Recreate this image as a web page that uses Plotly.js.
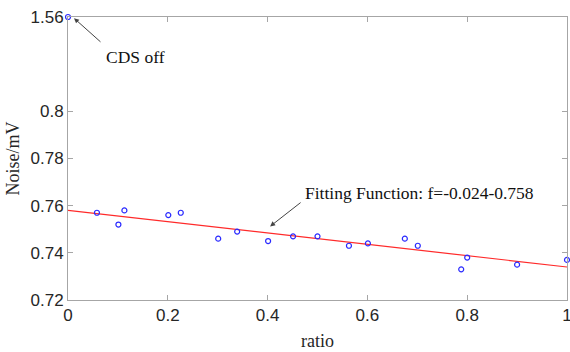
<!DOCTYPE html>
<html>
<head>
<meta charset="utf-8">
<script src="https://cdn.plot.ly/plotly-3.0.1.min.js"></script>
<style>html,body{margin:0;padding:0;background:#fff;}#chart{width:570px;height:352px;}</style>
</head>
<body>
<div id="chart"></div>
<script>
// Measured data
const ratio = [0, 0.058, 0.101, 0.113, 0.201, 0.226, 0.301, 0.339, 0.401, 0.451, 0.500, 0.563, 0.601, 0.675, 0.701, 0.788, 0.800, 0.900, 1.000];
const noise = [1.56, 0.757, 0.752, 0.758, 0.756, 0.757, 0.746, 0.749, 0.745, 0.747, 0.747, 0.743, 0.744, 0.746, 0.743, 0.733, 0.738, 0.735, 0.737];
// Linear fit f = slope*ratio + intercept
const fitSlope = -0.024;
const fitIntercept = 0.758;
const fitX = [0, 1];
// Y tick labels (broken axis: values above breakAt are drawn at the top slot)
const yTickValues = [0.72, 0.74, 0.76, 0.78, 0.8, 1.56];
const yTickLabels = ['0.72', '0.74', '0.76', '0.78', '0.8', '1.56'];
const xTickValues = [0, 0.2, 0.4, 0.6, 0.8, 1];
const xTickLabels = ['0', '0.2', '0.4', '0.6', '0.8', '1'];
const breakAt = 0.8;
const topSlot = 0.84;

function disp(v) { return v > breakAt ? topSlot : v; }

const fitY = fitX.map(x => fitSlope * x + fitIntercept);

const traces = [
  {
    x: fitX, y: fitY, mode: 'lines', type: 'scatter',
    line: {color: '#ff2a2a', width: 1.2}, hoverinfo: 'skip', showlegend: false
  },
  {
    x: ratio, y: noise.map(disp), mode: 'markers', type: 'scatter',
    marker: {symbol: 'circle-open', size: 5, color: '#2a2aff', line: {width: 1.2, color: '#2a2aff'}},
    cliponaxis: false, showlegend: false
  }
];

const serif = 'Liberation Serif, Times New Roman, serif';
const sans = 'Liberation Sans, Arial, sans-serif';

const layout = {
  width: 570, height: 352,
  margin: {l: 68, r: 3, t: 17, b: 52},
  paper_bgcolor: '#fff', plot_bgcolor: '#fff',
  showlegend: false,
  xaxis: {
    range: [0, 1], tickvals: xTickValues, ticktext: xTickLabels,
    showgrid: false, zeroline: false, showline: true, linecolor: '#a6a6a6', linewidth: 1,
    mirror: 'ticks', ticks: 'inside', ticklen: 5, tickcolor: '#a6a6a6',
    ticklabeloverflow: 'allow',
    tickfont: {family: sans, size: 17, color: '#262626'},
    title: {text: 'ratio', font: {family: serif, size: 18, color: '#262626'}, standoff: 9}
  },
  yaxis: {
    range: [0.72, topSlot], tickvals: yTickValues.map(disp), ticktext: yTickLabels,
    showgrid: false, zeroline: false, showline: true, linecolor: '#a6a6a6', linewidth: 1,
    mirror: 'ticks', ticks: 'inside', ticklen: 5, tickcolor: '#a6a6a6',
    ticklabeloverflow: 'allow',
    tickfont: {family: sans, size: 17, color: '#262626'},
    title: {text: 'Noise/mV', font: {family: serif, size: 18, color: '#262626'}, standoff: 6}
  },
  annotations: [
    {x: 0.012, y: 0.8395, xref: 'x', yref: 'y', ax: 28, ay: 25, text: '', showarrow: true,
     arrowhead: 2, arrowsize: 1, arrowwidth: 1, arrowcolor: '#444', standoff: 0, startstandoff: 0},
    {x: 104, y: 57, xref: 'paper', yref: 'paper', text: 'CDS off', showarrow: false,
     xanchor: 'left', yanchor: 'middle', font: {family: serif, size: 17.5, color: '#111'}},
    {x: 0.405, y: 0.7512, xref: 'x', yref: 'y', ax: 32, ay: -25, text: '', showarrow: true,
     arrowhead: 2, arrowsize: 1, arrowwidth: 1, arrowcolor: '#444', standoff: 0, startstandoff: 0},
    {x: 303, y: 193, xref: 'paper', yref: 'paper', text: 'Fitting Function: f=-0.024-0.758', showarrow: false,
     xanchor: 'left', yanchor: 'middle', font: {family: serif, size: 17.5, color: '#111'}}
  ]
};

// convert pixel positions of text annotations to paper coordinates
const pw = layout.width - layout.margin.l - layout.margin.r;
const ph = layout.height - layout.margin.t - layout.margin.b;
[1, 3].forEach(i => {
  const a = layout.annotations[i];
  a.x = (a.x - layout.margin.l) / pw;
  a.y = 1 - (a.y - layout.margin.t) / ph;
});

Plotly.newPlot('chart', traces, layout, {displayModeBar: false, staticPlot: true});
</script>
</body>
</html>
